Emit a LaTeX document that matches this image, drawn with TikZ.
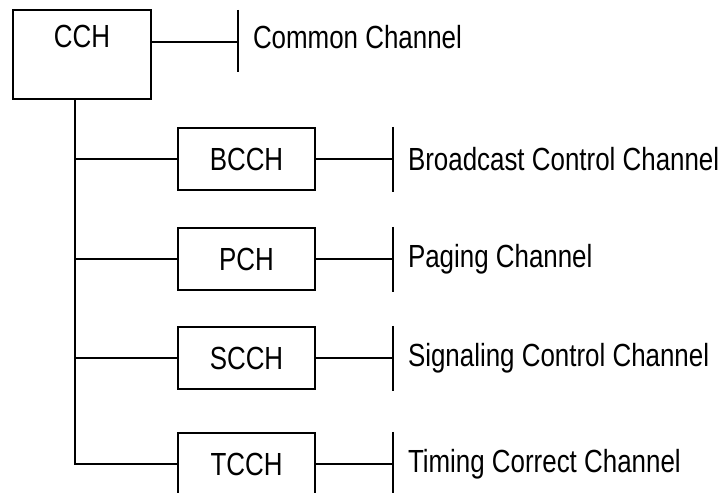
\documentclass[tikz,border=0pt]{standalone}
\usepackage{fontspec}
\newfontfamily\chfont{Liberation Sans}[FakeStretch=0.81]
\usetikzlibrary{positioning}

\begin{document}
\begin{tikzpicture}[
    x=1pt, y=1pt,
    line width=2pt,
    node distance=14pt,
    font=\chfont\fontsize{32pt}{38pt}\selectfont,
    chbox/.style={
        rectangle,
        draw,
        inner sep=0pt,
        minimum width=137pt,
        minimum height=62pt,
        align=center
    },
    chlabel/.style={
        inner sep=0pt,
        anchor=west
    }
]
\useasboundingbox (0,0) rectangle (727,492);

% main channel
\node[chbox, anchor=base, minimum width=138pt, minimum height=0pt,
      text height=38pt, text depth=51pt] (cch) at (82,444) {CCH};
\coordinate (cchbar) at (238,450);
\coordinate (trunk) at ([xshift=-7pt]cch.south);

% sub channels
\node[chbox] (bcch) at (246.5,333) {BCCH};
\node[chbox] (pch) at (246.5,233) {PCH};
\node[chbox] (scch) at (246.5,134) {SCCH};
\node[chbox] (tcch) at (246.5,28) {TCCH};
\coordinate (barx) at (393,0);

\draw (cchbar -| cch.east) -- (cchbar);
\draw ([yshift=32pt]cchbar) -- ([yshift=-30pt]cchbar);
\node[chlabel, right=of cchbar, yshift=5pt] (cchtxt) {Common Channel};

\foreach \n in {bcch,pch,scch}
    \draw (trunk |- \n) -- (\n.west);
\draw (trunk) |- (tcch.west);

\foreach \n/\t in {bcch/Broadcast Control Channel, pch/Paging Channel,
                   scch/Signaling Control Channel, tcch/Timing Correct Channel}{
    \draw (\n.east) -- (\n.east -| barx);
    \draw (\n.north -| barx) -- ([yshift=-1pt]\n.south -| barx);
    \node[chlabel, right=of {\n.east -| barx}] (\n txt) {\t};
}

\end{tikzpicture}
\end{document}
